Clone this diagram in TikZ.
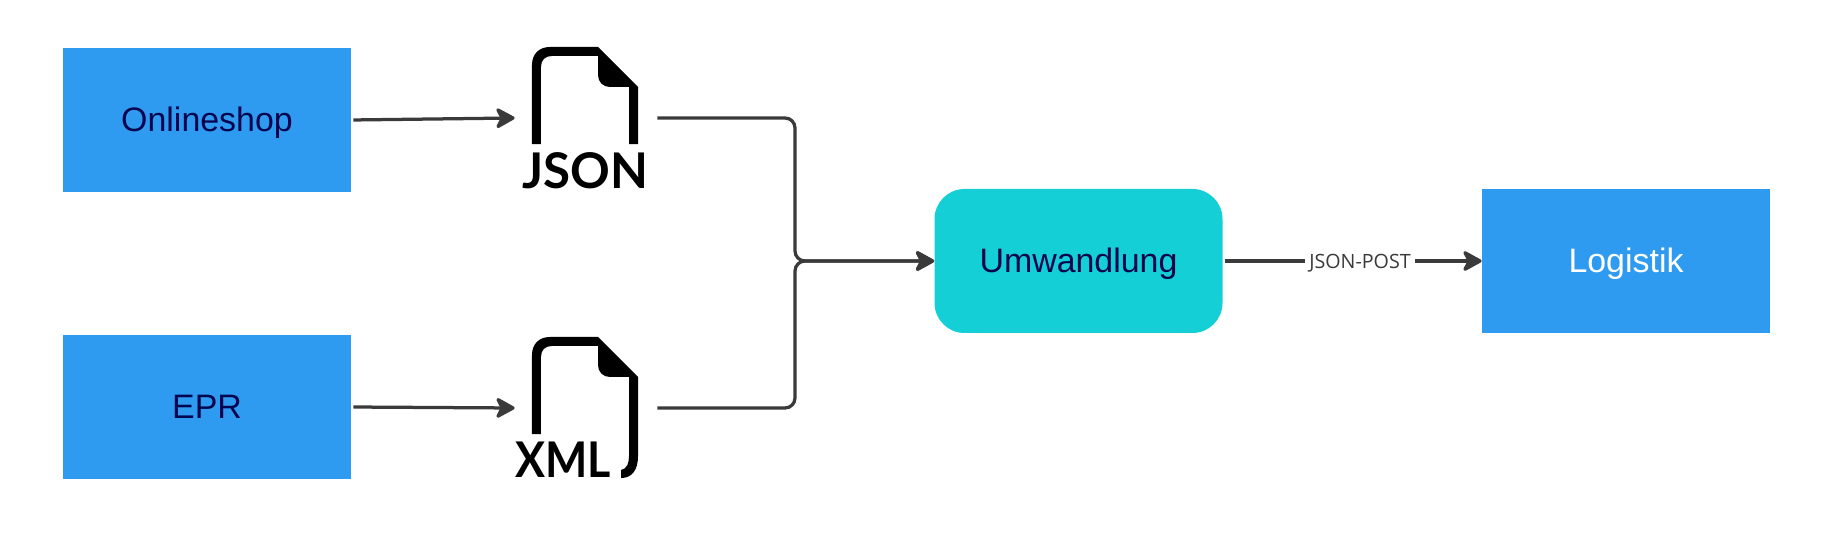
\documentclass[tikz,border=0pt]{standalone}
\usepackage{fontspec}
\setmainfont{Liberation Sans}
\newfontfamily\filefont{Lato}
\newfontfamily\labelfont{Open Sans}
\usetikzlibrary{shapes, arrows.meta}
\definecolor{boxblue}{HTML}{2F9BF0}
\definecolor{boxteal}{HTML}{14CFD6}
\definecolor{boxtext}{HTML}{050550}
\definecolor{linegray}{HTML}{3A3A3A}
\tikzstyle{source} = [rectangle, minimum width=5.76cm, minimum height=2.88cm, text centered, text height=0.48cm, text depth=0pt, fill=boxblue, text=boxtext, font=\fontsize{19.3}{23}\selectfont]
\tikzstyle{convert} = [source, fill=boxteal, rounded corners=0.6cm]
\tikzstyle{target} = [source, text=white]
\tikzstyle{filespot} = [rectangle, minimum width=2.84cm, minimum height=2.84cm, inner sep=0pt]
\tikzstyle{filetext} = [inner sep=0pt, text=black, font=\filefont\bfseries\fontsize{28}{30}\selectfont]
\tikzstyle{arrow} = [line width=0.065cm, draw=linegray, ->, >={Stealth[length=0.44cm, width=0.48cm, inset=0.12cm, round]}]
\tikzstyle{flowlabel} = [fill=white, inner xsep=0.08cm, inner ysep=0.02cm, yshift=-0.04cm, text=linegray, font=\labelfont\fontsize{11.2}{13}\selectfont]
% file symbol, drawn in pixels round the centre of a node
\newcommand{\fileicon}[2]{
	\fill [black, shift={(#1.center)}, x=0.02cm, y=-0.02cm]
		(-54,26) -- (-54,-53) .. controls (-54,-64) and (-47,-71) .. (-36,-71)
		-- (12,-71) -- (52,-31) #2 -- (43,-31) -- (24,-31)
		.. controls (17,-31) and (12,-36) .. (12,-43) -- (12,-62) -- (-34,-62)
		.. controls (-41,-62) and (-45,-58) .. (-45,-51) -- (-45,26) -- cycle;
}

\begin{document}
\begin{tikzpicture}[]
\useasboundingbox (0,0) rectangle (36.6,-10.92);

%==============================================
%Quellen
%==============================================
\node (shop) [source] at (4.14,-2.40) {Onlineshop};
\node (epr) [source, below of=shop, yshift=-4.74cm] {EPR};

%Dateien==============================================
\node (jsonfile) [filespot, right of=shop, xshift=6.58cm, yshift=0.04cm] {};
\fileicon{jsonfile}{-- (52,26) -- (43,26)}
\node (jsontext) [filetext, below of=jsonfile, xshift=-0.02cm, yshift=-0.05cm] {JSON};

\node (xmlfile) [filespot, right of=epr, xshift=6.58cm, yshift=-0.02cm] {};
\fileicon{xmlfile}{-- (52,48) .. controls (52,62) and (46,70) .. (35,70) -- (35,62) .. controls (41,61) and (43,55) .. (43,48)}
\node (xmltext) [filetext, below of=xmlfile, xshift=-0.46cm, yshift=-0.03cm] {\scalebox{0.91}[1]{XML}};

%Ziel==============================================
\node (conv) [convert] at (21.57,-5.22) {Umwandlung};
\node (logistik) [target, right of=conv, xshift=9.95cm] {Logistik};
\coordinate (merge) at (15.9,-5.22);

%==============================================
\draw [arrow, shorten <=0.04cm] (shop.east) -- (jsonfile.west);
\draw [arrow, shorten <=0.04cm] (epr.east) -- (xmlfile.west);
\draw [arrow, rounded corners=0.2cm] (jsonfile.east) -| (merge) -- (conv.west);
\draw [arrow, rounded corners=0.2cm] (xmlfile.east) -| (merge) -- (conv.west);
\draw [arrow, shorten <=0.04cm] (conv.east) -- node[flowlabel, pos=0.53] {JSON-POST} (logistik.west);
\end{tikzpicture}
\end{document}
